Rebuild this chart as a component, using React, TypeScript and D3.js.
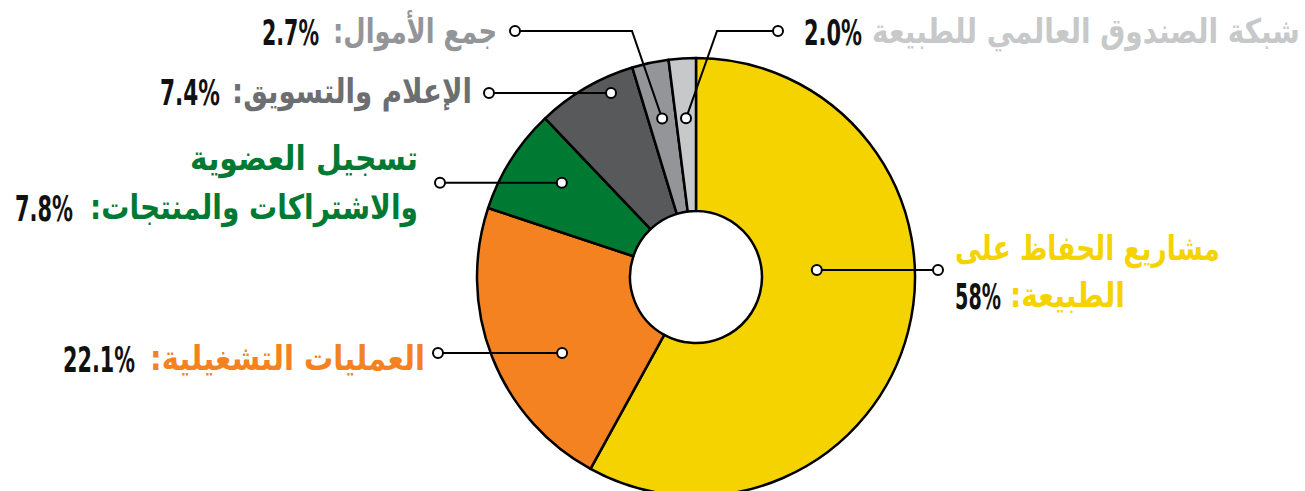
import { useEffect, useRef } from 'react'
import * as d3 from 'd3'

// slice data, clockwise from 12 o'clock
const names = [
  'مشاريع الحفاظ على الطبيعة',
  'العمليات التشغيلية',
  'تسجيل العضوية والاشتراكات والمنتجات',
  'الإعلام والتسويق',
  'جمع الأموال',
  'شبكة الصندوق العالمي للطبيعة',
]
const shares = [58, 22.1, 7.8, 7.4, 2.7, 2.0]
const shareLabels = ['58%', '22.1%', '7.8%', '7.4%', '2.7%', '2.0%']
const sliceColors = ['#f5d300', '#f58220', '#007a33', '#58595b', '#939598', '#c7c8ca']
const textColors = ['#f5d300', '#f58220', '#007a33', '#6d6e71', '#939598', '#c7c8ca']
// label text split into rendered lines (last line carries the value)
const labelLines = [
  ['مشاريع الحفاظ على', 'الطبيعة:'],
  ['العمليات التشغيلية:'],
  ['تسجيل العضوية', 'والاشتراكات والمنتجات:'],
  ['الإعلام والتسويق:'],
  ['جمع الأموال:'],
  ['شبكة الصندوق العالمي للطبيعة'],
]

const W = 1305
const H = 491
const CX = 696
const CY = 277
const R_OUT = 219
const R_IN = 66

// leader/label layout per slice
interface Layout {
  dotAngle: number | null // degrees, null = slice middle
  dotR: number
  elbow?: [number, number]
  outerX: number
  lines: { left: number; right: number; base: number }[]
  num: { left: number; right: number }
}
const layout: Layout[] = [
  { dotAngle: 86.7, dotR: 121, outerX: 938,
    lines: [{ left: 955, right: 1220, base: 260 }, { left: 1010, right: 1125, base: 307 }],
    num: { left: 955, right: 1001 } },
  { dotAngle: 240.4, dotR: 154, outerX: 438,
    lines: [{ left: 150, right: 425, base: 370 }],
    num: { left: 63, right: 135 } },
  { dotAngle: 305.1, dotR: 164, outerX: 440,
    lines: [{ left: 190, right: 418, base: 170 }, { left: 90, right: 418, base: 219 }],
    num: { left: 15, right: 73 } },
  { dotAngle: 335.2, dotR: 202.6, outerX: 489,
    lines: [{ left: 232, right: 472, base: 103 }],
    num: { left: 160, right: 220 } },
  { dotAngle: null, dotR: 162, elbow: [632, 31], outerX: 515,
    lines: [{ left: 333, right: 497, base: 43 }],
    num: { left: 262, right: 319 } },
  { dotAngle: null, dotR: 159, elbow: [717, 31], outerX: 778,
    lines: [{ left: 872, right: 1300, base: 43 }],
    num: { left: 804, right: 862 } },
]

const AR_FONT = '"DejaVu Sans", sans-serif'
const NUM_FONT = '"Liberation Sans Narrow", "DejaVu Sans Condensed", "Roboto", sans-serif'

// squeeze a text horizontally so it fills [left, right]
function fitText(
  sel: d3.Selection<SVGTextElement, unknown, null, undefined>,
  left: number, right: number, base: number,
) {
  const node = sel.node()
  const w = node ? node.getComputedTextLength() : right - left
  const sx = w > 0 ? (right - left) / w : 1
  sel.attr('x', 0).attr('y', 0)
    .attr('text-anchor', 'middle')
    .attr('transform', `translate(${(left + right) / 2},${base}) scale(${sx},1)`)
}

export default function App() {
  const ref = useRef<SVGSVGElement>(null)

  useEffect(() => {
    if (!ref.current) return
    const svg = d3.select(ref.current)
    svg.selectAll('*').remove()

    const pie = d3.pie<number>().sort(null).value(d => d)
    const arcs = pie(shares)
    const arc = d3.arc<d3.PieArcDatum<number>>().innerRadius(R_IN).outerRadius(R_OUT)

    const g = svg.append('g').attr('transform', `translate(${CX},${CY})`)
    g.selectAll('path').data(arcs).join('path')
      .attr('d', arc)
      .attr('fill', (_, i) => sliceColors[i])
      .attr('stroke', '#000')
      .attr('stroke-width', 2.5)
      .attr('stroke-linejoin', 'round')

    const polar = (deg: number, r: number): [number, number] => {
      const a = (deg * Math.PI) / 180
      return [CX + r * Math.sin(a), CY - r * Math.cos(a)]
    }

    const lead = svg.append('g')
    const labels = svg.append('g')
    arcs.forEach((a, i) => {
      const L = layout[i]
      const ang = L.dotAngle ?? (((a.startAngle + a.endAngle) / 2) * 180) / Math.PI
      const [ix, iy] = polar(ang, L.dotR)
      const pts: [number, number][] = [[ix, iy]]
      if (L.elbow) pts.push(L.elbow)
      const oy = L.elbow ? L.elbow[1] : iy
      pts.push([L.outerX, oy])
      lead.append('path')
        .attr('d', d3.line()(pts))
        .attr('fill', 'none')
        .attr('stroke', '#000')
        .attr('stroke-width', 2)
      ;[[ix, iy], [L.outerX, oy]].forEach(([x, y]) => {
        lead.append('circle')
          .attr('cx', x).attr('cy', y).attr('r', 5)
          .attr('fill', '#fff').attr('stroke', '#000').attr('stroke-width', 2)
      })

      labelLines[i].forEach((txt, li) => {
        const ln = L.lines[li]
        const t = labels.append('text')
          .attr('direction', 'rtl')
          .style('unicode-bidi', 'embed')
          .attr('font-family', AR_FONT)
          .attr('font-weight', 700)
          .attr('font-size', 34)
          .attr('fill', textColors[i])
          .text(txt)
        fitText(t, ln.left, ln.right, ln.base)
      })
      const last = L.lines[L.lines.length - 1]
      const n = labels.append('text')
        .attr('font-family', NUM_FONT)
        .attr('font-weight', 700)
        .attr('font-size', 36)
        .attr('fill', '#111')
        .text(shareLabels[i])
      fitText(n, L.num.left, L.num.right, last.base + 2)
    })
  }, [])

  return (
    <svg
      ref={ref}
      width={W}
      height={H}
      style={{ position: 'absolute', left: 0, top: 0, display: 'block', background: '#fff' }}
    >
      <title>{names.join(' / ')}</title>
    </svg>
  )
}
